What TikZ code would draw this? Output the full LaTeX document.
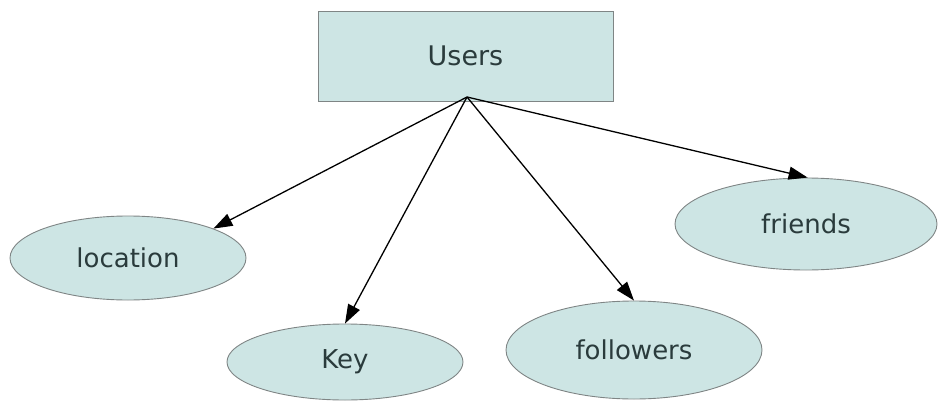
\documentclass[tikz,border=0pt]{standalone}
\usepackage{fontspec}
\setmainfont{DejaVu Sans}
\usetikzlibrary{shapes.geometric,arrows.meta}
\definecolor{nodefill}{HTML}{CDE5E4}
\definecolor{nodeline}{HTML}{7F8585}
\definecolor{nodetext}{HTML}{2A3B3C}
\tikzset{
  entity/.style={rectangle, draw=nodeline, fill=nodefill, line width=0.9pt,
    minimum width=295pt, minimum height=90pt, inner sep=0pt,
    font=\fontsize{27}{32}\selectfont, text=nodetext},
  attr/.style={ellipse, draw=nodeline, fill=nodefill, line width=0.9pt,
    inner sep=0pt, font=\fontsize{26}{30}\selectfont, text=nodetext},
  link/.style={draw=black, line width=1.3pt,
    -{Triangle[length=19pt,width=13pt]}}
}
\begin{document}
\begin{tikzpicture}[x=1pt,y=1pt]
  \useasboundingbox (0,0) rectangle (939,-401);
  % main entity and its attributes
  \node[entity] (users) at (465.5,-56) {Users};
  \node[attr, minimum width=236pt, minimum height=84pt] (location) at (128,-258) {location};
  \node[attr, minimum width=236pt, minimum height=76pt] (key) at (345,-362) {Key};
  \node[attr, minimum width=256pt, minimum height=98pt] (followers) at (634,-350) {followers};
  \node[attr, minimum width=262pt, minimum height=92pt] (friends) at (806,-224) {friends};
  % common start point of the connectors, near the bottom edge of Users
  \coordinate (hub) at (467,-97);
  \draw[link] (hub) -- (location.19);
  \draw[link] (hub) -- (key.north);
  \draw[link] (hub) -- (followers.north);
  \draw[link] (hub) -- (friends.88);
\end{tikzpicture}
\end{document}
